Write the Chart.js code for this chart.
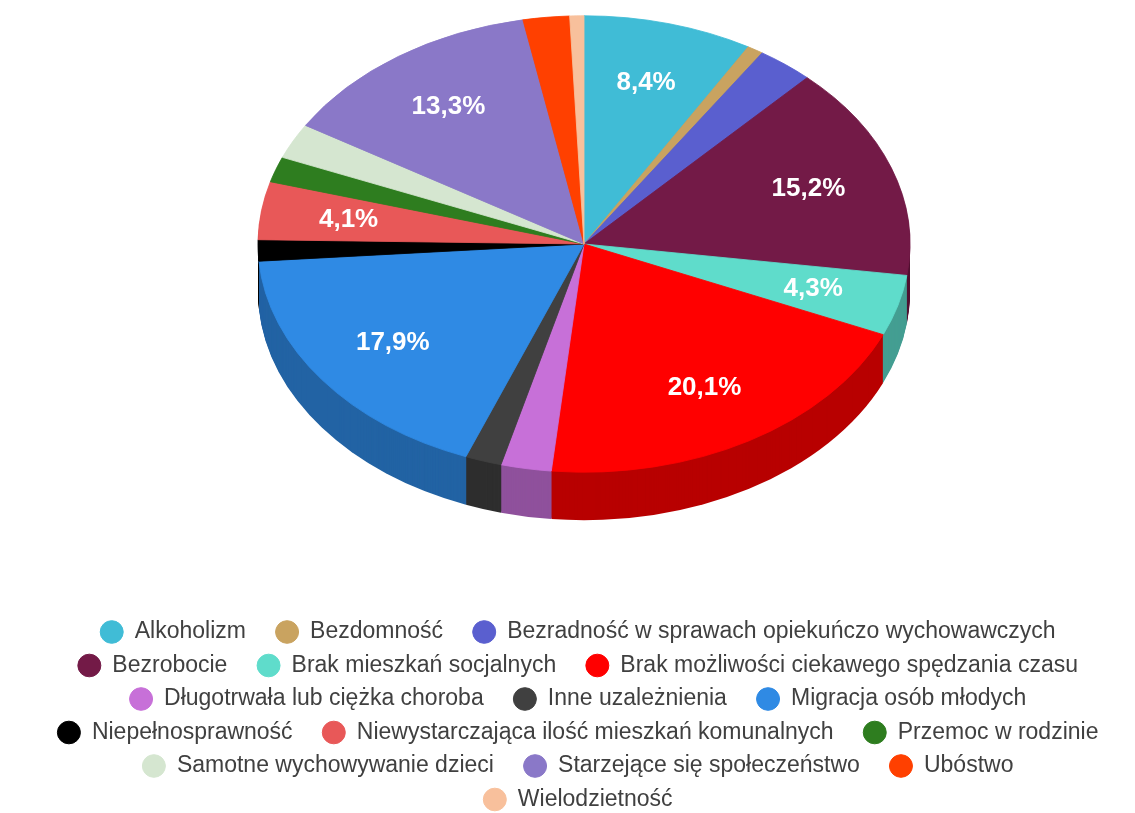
<!DOCTYPE html>
<html>
<head>
<meta charset="utf-8">
<script src="https://cdn.jsdelivr.net/npm/chart.js@4.4.1/dist/chart.umd.min.js"></script>
<style>
    html, body { margin: 0; padding: 0; background: #fff; }
    #wrap { width: 1135px; height: 813px; }
</style>
</head>
<body>
<div id="wrap"><canvas id="problemsChart"></canvas></div>
<script>
// Dane (udzial w %)
const categories = [
    'Alkoholizm',
    'Bezdomność',
    'Bezradność w sprawach opiekuńczo wychowawczych',
    'Bezrobocie',
    'Brak mieszkań socjalnych',
    'Brak możliwości ciekawego spędzania czasu',
    'Długotrwała lub ciężka choroba',
    'Inne uzależnienia',
    'Migracja osób młodych',
    'Niepełnosprawność',
    'Niewystarczająca ilość mieszkań komunalnych',
    'Przemoc w rodzinie',
    'Samotne wychowywanie dzieci',
    'Starzejące się społeczeństwo',
    'Ubóstwo',
    'Wielodzietność'
];
const shares = [8.4, 0.8, 2.8, 15.2, 4.3, 20.1, 2.5, 1.8, 17.9, 1.5, 4.1, 1.8, 2.5, 13.3, 2.3, 0.7];
const sliceColors = [
    '#40bcd6', '#c9a360', '#5a5fcf', '#731a47', '#5fdccb', '#ff0000', '#c770d8', '#404040',
    '#2f8ae4', '#000000', '#e85858', '#2e7d1f', '#d5e6d0', '#8a78c8', '#ff4000', '#f8c09c'
];

// Geometria "3D" (elipsa + grubosc)
const PIE_X = 584, PIE_Y = 244, TILT = 0.70, DEPTH = 48, RADIUS = 326;

function darken(hex, k) {
    const n = parseInt(hex.slice(1), 16);
    const r = Math.round(((n >> 16) & 255) * k);
    const g = Math.round(((n >> 8) & 255) * k);
    const b = Math.round((n & 255) * k);
    return 'rgb(' + r + ',' + g + ',' + b + ')';
}
const sideColors = sliceColors.map(function (c) { return darken(c, 0.72); });

function tiltTo(ctx, arc, dy) {
    ctx.translate(PIE_X, PIE_Y + dy);
    ctx.scale(1, TILT);
    ctx.translate(-arc.x, -arc.y);
}

const pie3d = {
    id: 'pie3d',
    beforeDatasetsDraw: function (chart) {
        const ctx = chart.ctx;
        const arcs = chart.getDatasetMeta(0).data;
        // sciany boczne - warstwy przesuniete w dol
        for (let d = DEPTH; d > 0; d--) {
            ctx.save();
            tiltTo(ctx, arcs[0], d);
            arcs.forEach(function (arc, i) {
                ctx.fillStyle = sideColors[i];
                ctx.beginPath();
                ctx.moveTo(arc.x, arc.y);
                ctx.arc(arc.x, arc.y, arc.outerRadius, arc.startAngle, arc.endAngle);
                ctx.closePath();
                ctx.fill();
            });
            ctx.restore();
        }
        // gorna powierzchnia rysowana przez Chart.js w splaszczonym ukladzie
        ctx.save();
        tiltTo(ctx, arcs[0], 0);
    },
    afterDatasetsDraw: function (chart) {
        const ctx = chart.ctx;
        ctx.restore();
        const arcs = chart.getDatasetMeta(0).data;
        ctx.save();
        ctx.font = 'bold 26px "Liberation Sans", Arial, sans-serif';
        ctx.fillStyle = '#ffffff';
        ctx.textAlign = 'center';
        ctx.textBaseline = 'middle';
        arcs.forEach(function (arc, i) {
            if (shares[i] < 4) return;
            const mid = (arc.startAngle + arc.endAngle) / 2;
            const r = arc.outerRadius * 0.73;
            const x = PIE_X + Math.cos(mid) * r;
            const y = PIE_Y + Math.sin(mid) * r * TILT;
            ctx.fillText(shares[i].toFixed(1).replace('.', ',') + '%', x, y);
        });
        ctx.restore();
    }
};

const ctx = document.getElementById('problemsChart').getContext('2d');
new Chart(ctx, {
    type: 'pie',
    data: {
        labels: categories,
        datasets: [{
            data: shares,
            backgroundColor: sliceColors,
            borderColor: sliceColors,
            borderWidth: 1,
            radius: RADIUS
        }]
    },
    options: {
        responsive: true,
        maintainAspectRatio: false,
        animation: false,
        layout: { padding: { left: 40, right: 0, top: 0, bottom: -8 } },
        plugins: {
            tooltip: { enabled: false },
            legend: {
                position: 'bottom',
                labels: {
                    usePointStyle: true,
                    pointStyle: 'circle',
                    pointStyleWidth: 23,
                    boxHeight: 16,
                    padding: 10.5,
                    color: '#404040',
                    font: { family: '"Liberation Sans", Arial, sans-serif', size: 23 },
                    generateLabels: function (chart) {
                        const items = Chart.overrides.doughnut.plugins.legend.labels.generateLabels(chart);
                        items.forEach(function (it) { it.text = it.text + '   '; });
                        return items;
                    }
                }
            }
        }
    },
    plugins: [pie3d]
});
</script>
</body>
</html>
